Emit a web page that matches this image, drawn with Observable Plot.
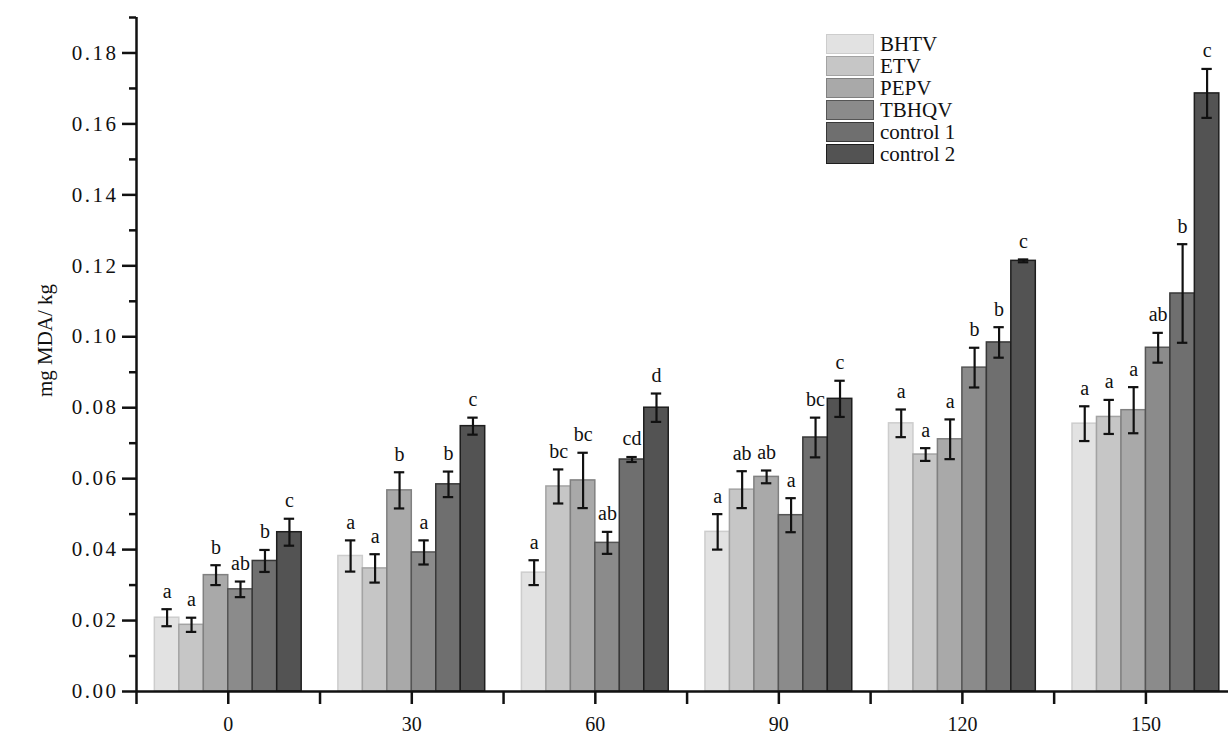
<!DOCTYPE html>
<html>
<head>
<meta charset="utf-8">
<script src="https://cdn.jsdelivr.net/npm/d3@7"></script>
<script src="https://cdn.jsdelivr.net/npm/@observablehq/plot@0.6"></script>
<style>
  html, body { margin: 0; padding: 0; background: #fff; }
  #wrap { position: relative; width: 1228px; height: 733px; font-family: "Liberation Serif", "DejaVu Serif", serif; }
  #legend { position: absolute; left: 826px; top: 33px; }
  .row { display: flex; align-items: center; height: 22px; }
  .sw { width: 48px; height: 20px; box-sizing: border-box; border: 1.5px solid; margin-right: 6px; }
  .lab { font-size: 21px; color: #111; line-height: 22px; }
  g[aria-label="y-axis tick label"] text { letter-spacing: 2.5px; }
</style>
</head>
<body>
<div id="wrap"><div id="legend"></div></div>
<script>
const days = [0, 30, 60, 90, 120, 150];
const series = ["BHTV", "ETV", "PEPV", "TBHQV", "control 1", "control 2"];
const fills = ["#e2e2e2", "#c6c6c6", "#a9a9a9", "#8b8b8b", "#6f6f6f", "#535353"];
const strokes = ["#cdcdcd", "#a3a3a3", "#808080", "#555555", "#383838", "#1e1e1e"];

const valBHTV  = [0.0208, 0.0382, 0.0335, 0.0450, 0.0756, 0.0755];
const valETV   = [0.0188, 0.0347, 0.0578, 0.0569, 0.0668, 0.0774];
const valPEPV  = [0.0328, 0.0567, 0.0595, 0.0605, 0.0711, 0.0793];
const valTBHQV = [0.0288, 0.0392, 0.0419, 0.0497, 0.0913, 0.0969];
const valC1    = [0.0368, 0.0584, 0.0654, 0.0716, 0.0984, 0.1122];
const valC2    = [0.0449, 0.0748, 0.0800, 0.0825, 0.1214, 0.1686];

const errBHTV  = [0.0024, 0.0044, 0.0035, 0.0050, 0.0039, 0.0049];
const errETV   = [0.0020, 0.0040, 0.0048, 0.0052, 0.0018, 0.0048];
const errPEPV  = [0.0028, 0.0051, 0.0078, 0.0018, 0.0056, 0.0065];
const errTBHQV = [0.0022, 0.0034, 0.0031, 0.0048, 0.0056, 0.0042];
const errC1    = [0.0031, 0.0036, 0.0007, 0.0056, 0.0043, 0.0139];
const errC2    = [0.0038, 0.0024, 0.0040, 0.0051, 0.0004, 0.0069];

const letBHTV  = ["a", "a", "a", "a", "a", "a"];
const letETV   = ["a", "a", "bc", "ab", "a", "a"];
const letPEPV  = ["b", "b", "bc", "ab", "a", "a"];
const letTBHQV = ["ab", "a", "ab", "a", "b", "ab"];
const letC1    = ["b", "b", "cd", "bc", "b", "b"];
const letC2    = ["c", "c", "d", "c", "c", "c"];

const yMajor = [0, 0.02, 0.04, 0.06, 0.08, 0.10, 0.12, 0.14, 0.16, 0.18];
const yMinor = [0.01, 0.03, 0.05, 0.07, 0.09, 0.11, 0.13, 0.15, 0.17, 0.19];
const xTicks = [-15, 0, 15, 30, 45, 60, 75, 90, 105, 120, 135, 150];

const vals = [valBHTV, valETV, valPEPV, valTBHQV, valC1, valC2];
const errs = [errBHTV, errETV, errPEPV, errTBHQV, errC1, errC2];
const lets = [letBHTV, letETV, letPEPV, letTBHQV, letC1, letC2];

const barW = 4; // bar width in x units
const data = [];
series.forEach((s, i) => {
  days.forEach((d, j) => {
    const c = d + (i - 2.5) * barW;
    data.push({series: s, i, day: d, x1: c - barW / 2, x2: c + barW / 2, cx: c,
      value: vals[i][j], err: errs[i][j], lo: vals[i][j] - errs[i][j], hi: vals[i][j] + errs[i][j],
      letter: lets[i][j]});
  });
});

const font = "Liberation Serif";
const chart = Plot.plot({
  width: 1228,
  height: 733,
  marginLeft: 136,
  marginRight: 0,
  marginTop: 17,
  marginBottom: 42,
  style: {fontFamily: font, background: "#fff", color: "#111", overflow: "visible"},
  x: {domain: [-15, 163.5], axis: null},
  y: {domain: [0, 0.19], axis: null},
  color: {type: "identity"},
  marks: [
    Plot.rectY(data, {x1: "x1", x2: "x2", y: "value", fill: d => fills[d.i], stroke: d => strokes[d.i], strokeWidth: 1.5, inset: 0}),
    Plot.ruleX(data, {x: "cx", y1: "lo", y2: "hi", stroke: "#111", strokeWidth: 2.2}),
    Plot.ruleY(data, {y: "hi", x1: d => d.cx - 0.85, x2: d => d.cx + 0.85, stroke: "#111", strokeWidth: 2.2}),
    Plot.ruleY(data, {y: "lo", x1: d => d.cx - 0.85, x2: d => d.cx + 0.85, stroke: "#111", strokeWidth: 2.2}),
    Plot.text(data, {x: "cx", y: "hi", text: "letter", dy: -18, fontSize: 20, fill: "#111", lineAnchor: "middle"}),
    Plot.axisY({ticks: yMajor, tickSize: 14, tickPadding: 4, tickFormat: d3.format(".2f"), fontSize: 21, strokeWidth: 2.5, label: null}),
    Plot.axisY({ticks: yMinor, tickSize: 7, tickFormat: () => "", strokeWidth: 2.5, label: null}),
    Plot.axisX({ticks: xTicks, tickSize: 13, tickPadding: 12, tickFormat: d => (d >= 0 && d % 30 === 0) ? String(d) : "", fontSize: 20, strokeWidth: 2.5, label: null}),
    Plot.ruleX([-15], {stroke: "#111", strokeWidth: 2.5}),
    Plot.ruleY([0], {stroke: "#111", strokeWidth: 2.5}),
    Plot.text(["mg MDA/ kg"], {frameAnchor: "left", textAnchor: "middle", dx: -91, dy: -14, rotate: -90, fontSize: 21, fill: "#111"})
  ]
});
const wrap = document.getElementById("wrap");
wrap.insertBefore(chart, wrap.firstChild);

const legend = document.getElementById("legend");
series.forEach((s, i) => {
  const row = document.createElement("div");
  row.className = "row";
  const sw = document.createElement("div");
  sw.className = "sw";
  sw.style.background = fills[i];
  sw.style.borderColor = strokes[i];
  const lab = document.createElement("span");
  lab.className = "lab";
  lab.textContent = s;
  row.appendChild(sw);
  row.appendChild(lab);
  legend.appendChild(row);
});
</script>
</body>
</html>
